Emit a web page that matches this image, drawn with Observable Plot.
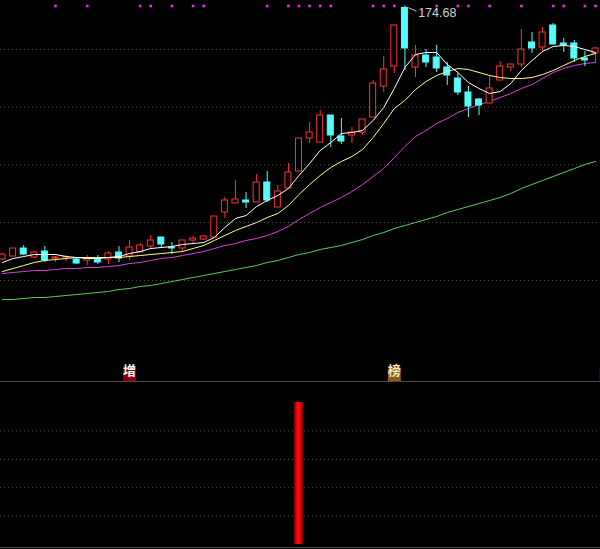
<!DOCTYPE html>
<html><head><meta charset="utf-8">
<script src="https://cdn.jsdelivr.net/npm/d3@7"></script>
<script src="https://cdn.jsdelivr.net/npm/@observablehq/plot@0.6"></script>
<style>
html,body{margin:0;padding:0;background:#000;overflow:hidden;width:600px;height:549px}
#c svg{display:block}
</style>
</head><body><div id="c"></div>
<script>
// ---- candle data (price) ----
const openP  = [83.42,84.50,87.38,84.14,86.30,83.78,84.14,83.42,83.06,83.78,83.42,85.94,84.50,85.94,88.10,91.34,87.74,87.38,90.26,90.62,91.34,100.34,103.58,104.66,103.94,111.14,102.14,108.98,115.10,126.98,125.54,135.26,127.70,128.06,129.14,134.54,145.70,152.90,174.00,152.54,156.86,156.14,152.54,148.58,143.54,141.02,139.58,147.86,152.54,153.62,161.54,159.74,167.66,161.18,161.18,155.78,157.58];
const highP  = [85.58,87.38,88.46,86.30,88.10,84.50,84.86,83.78,84.86,84.86,86.30,88.10,90.26,89.18,92.06,91.34,89.54,90.26,91.70,92.06,98.90,105.74,111.86,107.54,114.02,115.10,110.06,117.98,126.98,132.74,137.06,135.26,134.18,130.94,133.82,147.86,156.50,167.66,174.68,160.46,159.02,160.46,154.34,150.38,145.70,141.38,149.30,154.70,153.62,166.22,165.14,166.94,168.38,162.98,162.26,158.30,159.74];
const lowP   = [83.06,84.50,84.86,83.78,82.34,82.34,82.70,81.62,81.26,81.62,81.62,82.34,83.06,85.94,87.02,87.38,85.22,86.30,89.18,90.26,91.34,98.18,103.58,101.78,103.94,103.94,102.14,108.98,115.10,125.18,125.54,123.74,124.82,125.18,128.06,134.54,143.54,150.38,151.46,148.94,152.54,150.74,146.06,142.46,134.54,135.26,139.58,147.86,151.10,152.54,157.58,157.94,160.82,157.94,154.34,152.90,154.34];
const closeP = [85.22,87.38,85.22,85.94,83.06,84.14,84.32,81.98,83.78,82.34,85.58,83.78,87.74,88.46,90.26,88.82,87.38,90.26,90.98,91.70,98.90,104.66,105.02,103.94,111.14,104.66,107.90,114.74,126.98,129.14,135.26,128.06,125.90,129.14,133.82,146.78,151.82,167.66,159.38,156.86,154.34,152.18,149.66,143.54,138.50,138.86,144.98,152.90,153.62,159.02,159.38,165.14,160.82,160.46,155.78,155.06,159.38];

// ---- moving averages ----
const ma5  = [82.34,83.78,84.50,85.22,85.22,85.22,84.50,84.14,83.78,83.78,84.14,84.50,85.58,86.30,87.38,87.74,88.10,88.82,89.18,89.54,91.34,94.94,98.18,99.26,102.50,104.66,106.46,108.98,113.66,117.98,122.66,125.54,128.78,129.14,129.86,133.46,138.14,144.98,152.54,157.22,157.94,157.94,153.62,150.74,147.14,144.98,143.18,143.90,146.78,151.46,155.06,158.30,160.10,160.46,160.10,159.02,157.94];
const ma10 = [79.10,80.18,81.26,82.34,83.06,83.42,83.78,84.14,84.14,84.14,84.14,84.14,84.50,84.86,85.22,85.58,85.94,86.30,87.38,88.46,90.26,92.06,93.86,95.30,96.74,98.54,99.98,102.86,106.82,110.42,113.66,116.54,118.70,120.50,123.02,127.34,132.38,137.78,140.66,144.62,147.50,149.66,151.10,152.18,151.82,150.74,149.66,148.94,148.58,148.58,148.94,150.02,151.46,153.26,155.06,156.50,157.58];
const ma20 = [78.38,78.74,79.10,79.46,79.46,79.82,80.18,80.18,80.54,80.54,80.90,81.26,81.98,82.34,83.06,83.78,84.14,84.86,85.58,86.30,87.38,88.46,89.18,90.26,90.98,92.06,93.50,95.30,97.82,99.98,102.14,103.94,105.74,107.90,110.42,113.30,116.18,120.14,124.10,127.70,129.86,132.38,134.18,136.34,137.78,139.22,140.30,141.74,143.18,144.98,146.42,148.58,150.74,152.18,153.26,153.98,154.34];
const ma60 = [69.02,69.02,69.38,69.74,69.74,70.10,70.46,70.82,71.18,71.54,71.90,72.62,72.98,73.70,74.06,74.78,75.50,76.22,76.94,77.66,78.38,79.10,79.82,80.54,81.26,82.34,83.06,84.14,85.22,85.94,87.02,87.74,88.46,89.54,90.62,92.06,93.14,94.58,95.66,96.74,97.82,98.90,100.34,101.42,102.50,103.58,104.66,105.74,107.18,108.98,110.42,111.86,113.30,114.74,116.18,117.62,118.70];

// ---- grid / signals ----
const gridLevels = [159.02, 138.26, 117.50, 96.74, 75.86];
const signalDots = [5,8,13,14,16,18,19,25,27,28,29,30,31,35,36,37,41,43,44,46,49,52,53,55,56];
const labelIdx  = [12, 37, 57];
const labelText = ["增", "榜", ""];
const highLabel = "174.68";
const highIdx = 38;
const barIdx = [28];
const barVal = [100];
const indGrid = [20, 40, 60, 80];

// ---- build tables ----
const candles = openP.map((o, i) => ({i, open: o, high: highP[i], low: lowP[i], close: closeP[i], up: closeP[i] >= o}));
const upC = candles.filter(d => d.up), downC = candles.filter(d => !d.up);
const maRows = (arr) => arr.map((v, i) => ({i, v}));
const labels = labelIdx.map((i, k) => ({i, t: labelText[k]}));
const bars = barIdx.map((i, k) => ({i, v: barVal[k]}));

const RED = "#ff3232", CYAN = "#54fcfc";
const xDomain = [-0.19, 56.47];
const hw = 0.283;
const bgOf = {"增": "#8c0000", "榜": "#8e5a22", "": "#1f2f72"};
const fgOf = {"增": "#ffffff", "榜": "#ffe9b0", "": "#ffffff"};

const topChart = Plot.plot({
  width: 600, height: 381, margin: 0,
  x: {domain: xDomain, axis: null},
  y: {domain: [39.5, 176.66], axis: null},
  color: {type: "identity"},
  style: {background: "#000"},
  marks: [
    Plot.ruleY(gridLevels, {stroke: "#505050", strokeDasharray: "1,3"}),
    Plot.line(maRows(ma60), {x: "i", y: "v", stroke: "#58d058", strokeWidth: 1}),
    Plot.line(maRows(ma20), {x: "i", y: "v", stroke: "#d843d8", strokeWidth: 1}),
    Plot.ruleX(upC, {x: "i", y1: "low", y2: "high", stroke: RED}),
    Plot.ruleX(downC, {x: "i", y1: "low", y2: "high", stroke: CYAN}),
    Plot.rect(upC, {x1: d => d.i - hw, x2: d => d.i + hw, y1: "open", y2: "close", fill: "#000", stroke: RED}),
    Plot.rect(downC, {x1: d => d.i - hw, x2: d => d.i + hw, y1: "open", y2: "close", fill: CYAN, stroke: CYAN}),
    Plot.line(maRows(ma10), {x: "i", y: "v", stroke: "#ffff88", strokeWidth: 1}),
    Plot.line(maRows(ma5), {x: "i", y: "v", stroke: "#ffffff", strokeWidth: 1}),
    Plot.dot(signalDots, {x: d => d, frameAnchor: "top", dy: 5.5, symbol: "square", r: 1.5, fill: "#e030e0"}),
    Plot.link([candles[highIdx]], {x1: d => d.i + 0.33, y1: d => d.high - 0.6, x2: d => d.i + 1.1, y2: d => d.high - 1.9, stroke: "#c8c8c8", strokeWidth: 1}),
    Plot.text([candles[highIdx]], {x: d => d.i + 1.25, y: "high", dy: 6.5, text: () => highLabel, textAnchor: "start", fill: "#d0d0d0", fontSize: 12.5, fontFamily: "Liberation Sans, Arial, sans-serif"}),
    Plot.dot(labels, {x: "i", frameAnchor: "bottom", dy: -6.5, symbol: "square", r: 7.3, fill: d => bgOf[d.t]}),
    Plot.text(labels, {x: "i", frameAnchor: "bottom", dy: -6.5, text: "t", fill: d => fgOf[d.t], fontSize: 13, fontWeight: "bold", fontFamily: "Noto Sans CJK SC, sans-serif"})
  ]
});

const yTop = 114.8;
const bottomChart = Plot.plot({
  width: 600, height: 168, margin: 0, marginBottom: 5,
  x: {domain: xDomain, axis: null},
  y: {domain: [0, yTop], axis: null},
  style: {background: "#000"},
  marks: [
    Plot.ruleY([yTop], {stroke: "#4a4a4a", strokeWidth: 1.2}),
    Plot.ruleY(indGrid, {stroke: "#505050", strokeDasharray: "1,3"}),
    Plot.ruleY([0], {dy: 3, stroke: "#4a4a4a", strokeWidth: 1.2}),
    Plot.rect(bars, {x1: d => d.i - 0.43, x2: d => d.i + 0.43, y1: 0, y2: "v", fill: "url(#barGrad)"})
  ]
});
const defs = d3.select(bottomChart).insert("defs", ":first-child");
const g = defs.append("linearGradient").attr("id", "barGrad").attr("x1", "0").attr("x2", "1").attr("y1", "0").attr("y2", "0");
[["0%", "#600000"], ["25%", "#e00000"], ["50%", "#ff1010"], ["75%", "#e00000"], ["100%", "#600000"]]
  .forEach(([o, c]) => g.append("stop").attr("offset", o).attr("stop-color", c));

document.getElementById("c").append(topChart, bottomChart);
</script>
</body></html>
